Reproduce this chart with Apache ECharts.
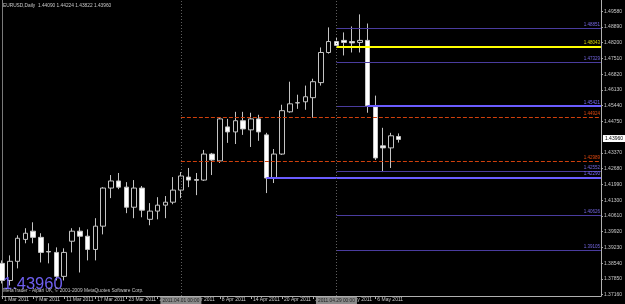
<!DOCTYPE html>
<html><head><meta charset="utf-8">
<script src="https://cdn.jsdelivr.net/npm/echarts@6/dist/echarts.min.js"></script>
<style>html,body{margin:0;padding:0;background:#000;overflow:hidden}#c{width:625px;height:304px}</style>
</head><body><div id="c"></div>
<script>
// ---- data ----
const dates = ['2011.03.01','2011.03.02','2011.03.03','2011.03.04','2011.03.07','2011.03.08','2011.03.09','2011.03.10','2011.03.11',
 '2011.03.14','2011.03.15','2011.03.16','2011.03.17','2011.03.18','2011.03.21','2011.03.22','2011.03.23','2011.03.24','2011.03.25',
 '2011.03.28','2011.03.29','2011.03.30','2011.03.31','2011.04.01','2011.04.04','2011.04.05','2011.04.06','2011.04.07','2011.04.08',
 '2011.04.11','2011.04.12','2011.04.13','2011.04.14','2011.04.15','2011.04.18','2011.04.19','2011.04.20','2011.04.21','2011.04.22',
 '2011.04.25','2011.04.26','2011.04.27','2011.04.28','2011.04.29','2011.05.02','2011.05.03','2011.05.04','2011.05.05','2011.05.06',
 '2011.05.09','2011.05.10','2011.05.11'];
const dateTickLabels = ['1 Mar 2011','7 Mar 2011','11 Mar 2011','17 Mar 2011','23 Mar 2011','29 Mar 2011','4 Apr 2011',
 '8 Apr 2011','14 Apr 2011','20 Apr 2011','26 Apr 2011','2 May 2011','6 May 2011'];
const opens  = [1.3853,1.3778,1.3862,1.3958,1.3994,1.3967,1.3905,1.3901,1.3796,1.3950,1.3994,1.3972,1.3914,1.4016,1.4183,1.4214,1.4187,1.4099,1.4183,1.4046,1.4082,1.4108,1.4121,1.4174,1.4231,1.4220,1.4218,1.4332,1.4302,1.4451,1.4429,1.4478,1.4438,1.4486,1.4416,1.4227,1.4332,1.4517,1.4556,1.4561,1.4579,1.4645,1.4777,1.4825,1.4830,1.4825,1.4821,1.4830,1.4539,1.4368,1.4359,1.44090];
const highs  = [1.3866,1.3888,1.3976,1.4007,1.4033,1.3985,1.3941,1.3923,1.3919,1.4007,1.4011,1.4002,1.4051,1.4187,1.4240,1.4249,1.4209,1.4218,1.4192,1.4117,1.4143,1.4148,1.4231,1.4253,1.4271,1.4249,1.4350,1.4337,1.4491,1.4486,1.4517,1.4517,1.4513,1.4504,1.4425,1.4354,1.4548,1.4649,1.4592,1.4632,1.4662,1.4799,1.4887,1.4843,1.4865,1.4891,1.4944,1.4904,1.4588,1.4447,1.4425,1.44224];
const lows   = [1.3765,1.3756,1.3831,1.3941,1.3941,1.3857,1.3853,1.3778,1.3778,1.3901,1.3813,1.3866,1.3866,1.3980,1.4139,1.4178,1.4073,1.4051,1.4055,1.4020,1.4046,1.4051,1.4112,1.4139,1.4187,1.4152,1.4214,1.4240,1.4293,1.4381,1.4376,1.4416,1.4363,1.4390,1.4161,1.4205,1.4328,1.4513,1.4530,1.4526,1.4491,1.4632,1.4772,1.4799,1.4764,1.4777,1.4777,1.4513,1.4306,1.4253,1.4271,1.43822];
const closes = [1.3778,1.3862,1.3963,1.3985,1.3967,1.3901,1.3903,1.3796,1.3901,1.3994,1.3972,1.3914,1.4016,1.4183,1.4214,1.4187,1.4099,1.4183,1.4086,1.4082,1.4108,1.4121,1.4174,1.4236,1.4218,1.4217,1.4332,1.4306,1.4486,1.4429,1.4478,1.4442,1.4486,1.4429,1.4227,1.4332,1.4522,1.4552,1.4557,1.4583,1.4649,1.4777,1.4825,1.4808,1.4821,1.4819,1.4830,1.4544,1.4315,1.4359,1.4412,1.43960];
const priceTicks = [1.37160,1.37850,1.38540,1.39230,1.39920,1.40610,1.41300,1.41990,1.42680,1.43370,1.44750,1.45440,1.46130,1.46820,1.47510,1.48200,1.48890,1.49580];
const currentPrice = 1.43960;
const levelValues = [1.48851,1.48043,1.47329,1.45421,1.45421,1.44924,1.42989,1.42552,1.42290,1.40626,1.39105];
const levelStarts = [43,43,43,43,47,23,23,43,34,43,43];
const levelKinds  = ['dim','yellow','dim','dimNoLabel','bright','red','red','dim','bright','dim','dim'];
const vLineIdx = [23,43];
const vLineLabels = ['2011.04.01 00:00','2011.04.29 00:00'];
const futureSlots = 26;

// ---- chart ----
const cats = dates.concat(Array.from({length: futureSlots}, (_, k) => '+' + (k + 1)));
const lastIdx = cats.length - 1;
const candles = dates.map((d, i) => [opens[i], closes[i], lows[i], highs[i]]);
const FONT = "'Liberation Sans', Arial, sans-serif";

const styles = {
  dim:        {line: {color: '#4a3c9e', width: 1, type: 'solid'}, text: '#7466e0'},
  dimNoLabel: {line: {color: '#4a3c9e', width: 1, type: 'solid'}, text: null},
  bright:     {line: {color: '#6a5cff', width: 2, type: 'solid'}, text: '#7a6cff'},
  yellow:     {line: {color: '#ffff00', width: 2, type: 'solid'}, text: '#d8d800'},
  red:        {line: {color: '#d0400c', width: 1, type: 'dashed', dashOffset: 0}, text: '#e0480f'}
};

const mlData = [];
levelValues.forEach((v, i) => {
  const s = styles[levelKinds[i]];
  mlData.push([
    {coord: [levelStarts[i], v], lineStyle: Object.assign({}, s.line),
     label: s.text ? {show: true, position: 'insideEndTop', formatter: v.toFixed(5), color: s.text,
       fontSize: 4.5, fontFamily: FONT, distance: [1, 1]} : {show: false}},
    {coord: [lastIdx, v], lineStyle: Object.assign({}, s.line)}
  ]);
});
vLineIdx.forEach((ix, i) => {
  mlData.push({xAxis: ix, lineStyle: {color: '#5e5e5e', width: 1, type: [1, 2]},
    label: {show: true, position: 'start', formatter: vLineLabels[i], backgroundColor: '#8a8a8a',
      color: '#1e1e1e', fontSize: 4.8, fontFamily: FONT, padding: [1, 2, 1, 2], distance: 1}});
});

const chart = echarts.init(document.getElementById('c'), null, {renderer: 'canvas'});
chart.setOption({
  backgroundColor: '#000',
  animation: false,
  textStyle: {fontFamily: FONT},
  title: {text: 'EURUSD,Daily  1.44090 1.44224 1.43822 1.43960', left: 3, top: 3, padding: 0,
    textStyle: {fontSize: 4.8, color: '#c8c8c8', fontWeight: 'normal', fontFamily: FONT}},
  grid: {left: 2, right: 19, top: 0, bottom: 8},
  xAxis: {
    type: 'category', data: cats, boundaryGap: false,
    axisLine: {show: true, lineStyle: {color: '#b0b0b0', width: 1}},
    axisTick: {show: true, length: 3, interval: (i) => i % 4 === 0 && i / 4 < dateTickLabels.length,
      lineStyle: {color: '#b0b0b0'}},
    axisLabel: {show: true, interval: (i) => i % 4 === 0 && i / 4 < dateTickLabels.length,
      formatter: (v, i) => (i % 4 === 0 && i / 4 < dateTickLabels.length) ? dateTickLabels[i / 4] : '',
      align: 'left', padding: [0, 0, 0, 2], margin: 1, fontSize: 5, color: '#c8c8c8', fontFamily: FONT},
    splitLine: {show: false}
  },
  yAxis: [{
    type: 'value', position: 'right', min: 1.3710, max: 1.5007, scale: true,
    axisLine: {show: true, lineStyle: {color: '#b0b0b0', width: 1}},
    axisTick: {show: true, length: 2, customValues: priceTicks, lineStyle: {color: '#b0b0b0'}},
    axisLabel: {show: true, customValues: priceTicks, formatter: (v) => v.toFixed(5), margin: 3,
      fontSize: 5, color: '#c8c8c8', fontFamily: FONT},
    splitLine: {show: false}
  }, {
    type: 'value', position: 'left', min: 1.3710, max: 1.5007,
    axisLine: {show: true, lineStyle: {color: '#7a7a7a', width: 1}},
    axisTick: {show: false}, axisLabel: {show: false}, splitLine: {show: false}
  }],
  series: [{
    type: 'candlestick', data: candles, barWidth: 5, clip: false,
    itemStyle: {color: '#000000', color0: '#ffffff', borderColor: '#c4c4c4', borderColor0: '#c4c4c4', borderWidth: 1},
    markLine: {symbol: ['none', 'none'], silent: true, animation: false, z: 5, data: mlData}
  }, {
    type: 'line', data: [], silent: true,
    markLine: {symbol: ['none', 'none'], silent: true, animation: false, z: 6,
      data: [{yAxis: currentPrice, lineStyle: {color: 'rgba(0,0,0,0)', width: 1},
        label: {show: true, position: 'end', formatter: currentPrice.toFixed(5), backgroundColor: '#ffffff',
          color: '#000000', fontSize: 5, fontFamily: FONT, padding: [1, 2, 1, 2], distance: 2}}]}
  }],
  graphic: [
    {type: 'text', x: 3, y: 284, z: 10, style: {text: '1.43960', fontSize: 16.5, fontFamily: FONT,
      fill: '#6e5ff0', align: 'left', verticalAlign: 'middle'}},
    {type: 'text', x: 3, y: 291, z: 11, style: {text: 'MetaTrader - Alpari UK, \u00a9 2001-2009 MetaQuotes Software Corp.',
      fontSize: 4.8, fontFamily: FONT, fill: '#c8c8c8', align: 'left', verticalAlign: 'middle'}}
  ]
});
</script>
</body></html>
